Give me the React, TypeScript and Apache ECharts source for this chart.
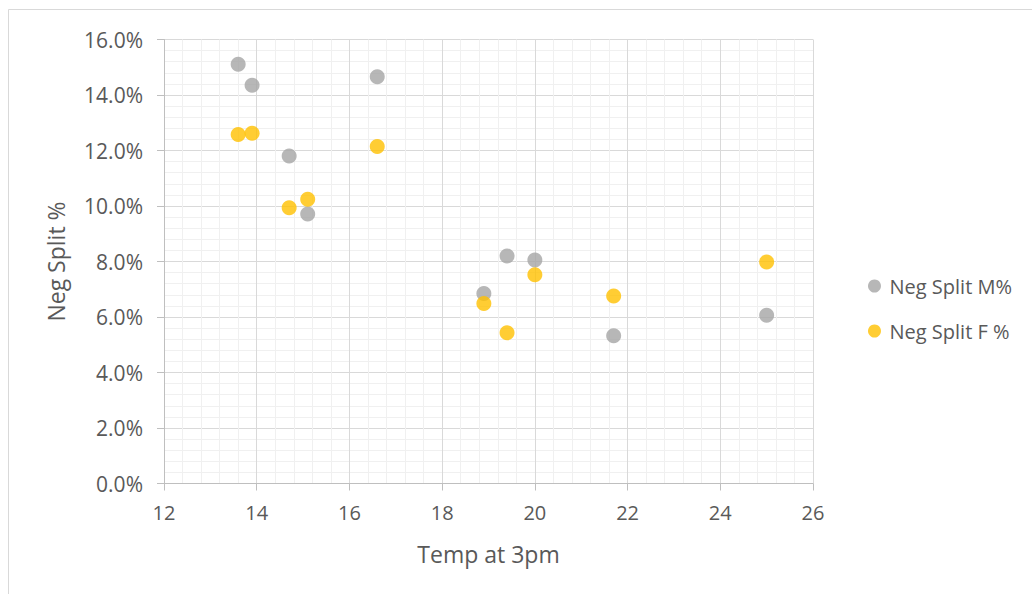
import React, { useEffect, useRef } from "react";
import * as echarts from "echarts";

const tempM = [13.6, 13.9, 16.6, 14.7, 15.1, 18.9, 19.4, 20.0, 21.7, 25.0];
const negSplitM = [0.1511, 0.1435, 0.1466, 0.118, 0.0971, 0.0685, 0.082, 0.0805, 0.0532, 0.0606];
const tempF = [13.6, 13.9, 16.6, 14.7, 15.1, 18.9, 19.4, 20.0, 21.7, 25.0];
const negSplitF = [0.1258, 0.1262, 0.1214, 0.0994, 0.1024, 0.0649, 0.0543, 0.0752, 0.0676, 0.0798];
const seriesNames = ["Neg Split M%", "Neg Split F %"];

const FONT = "'Open Sans', 'Noto Sans', sans-serif";
const TXT = "#595959";

export default function App() {
  const ref = useRef<HTMLDivElement>(null);
  useEffect(() => {
    if (!ref.current) return;
    const chart = echarts.init(ref.current, undefined, { renderer: "svg" });
    chart.setOption({
      animation: false,
      backgroundColor: "#ffffff",
      textStyle: { fontFamily: FONT },
      graphic: [
        {
          type: "rect",
          shape: { x: 8.5, y: 9.5, width: 1030, height: 600 },
          style: { fill: "none", stroke: "#D9D9D9", lineWidth: 1 },
          silent: true,
        },
      ],
      grid: { left: 164, right: 219, top: 39.5, bottom: 110.5 },
      legend: {
        orient: "vertical",
        left: 863,
        top: 271,
        itemGap: 25,
        icon: "circle",
        itemWidth: 20,
        itemHeight: 13,
        textStyle: { color: TXT, fontSize: 20, fontFamily: FONT },
        data: seriesNames,
      },
      xAxis: {
        type: "value",
        min: 12,
        max: 26,
        interval: 2,
        name: "Temp at 3pm",
        nameLocation: "middle",
        nameGap: 59,
        nameTextStyle: { color: TXT, fontSize: 23, fontFamily: FONT },
        axisLine: { show: true, lineStyle: { color: "#BFBFBF", width: 1 } },
        axisTick: { show: true, length: 7, lineStyle: { color: "#BFBFBF" } },
        axisLabel: { color: TXT, fontSize: 20, margin: 19, fontFamily: FONT },
        splitLine: { show: true, lineStyle: { color: "#D9D9D9", width: 1 } },
        minorTick: { show: false, splitNumber: 5 },
        minorSplitLine: { show: true, lineStyle: { color: "#F0F0F0", width: 1 } },
      },
      yAxis: {
        type: "value",
        min: 0,
        max: 0.16,
        interval: 0.02,
        name: "Neg Split %",
        nameLocation: "middle",
        nameGap: 97,
        nameTextStyle: { color: TXT, fontSize: 23, fontFamily: FONT },
        axisLine: { show: true, lineStyle: { color: "#BFBFBF", width: 1 } },
        axisTick: { show: true, length: 7, lineStyle: { color: "#BFBFBF" } },
        axisLabel: {
          color: TXT,
          fontSize: 21,
          margin: 21,
          fontFamily: FONT,
          formatter: (v: number) => (v * 100).toFixed(1) + "%",
        },
        splitLine: { show: true, lineStyle: { color: "#D9D9D9", width: 1 } },
        minorTick: { show: false, splitNumber: 5 },
        minorSplitLine: { show: true, lineStyle: { color: "#F0F0F0", width: 1 } },
      },
      series: [
        {
          name: seriesNames[0],
          type: "scatter",
          symbolSize: 15,
          itemStyle: { color: "#A5A5A5" },
          data: tempM.map((t, i) => [t, negSplitM[i]]),
        },
        {
          name: seriesNames[1],
          type: "scatter",
          symbolSize: 15,
          itemStyle: { color: "#FFC000" },
          data: tempF.map((t, i) => [t, negSplitF[i]]),
        },
      ],
    });
    return () => chart.dispose();
  }, []);
  return (
    <div
      ref={ref}
      style={{ position: "fixed", left: 0, top: 0, width: 1032, height: 594 }}
    />
  );
}
